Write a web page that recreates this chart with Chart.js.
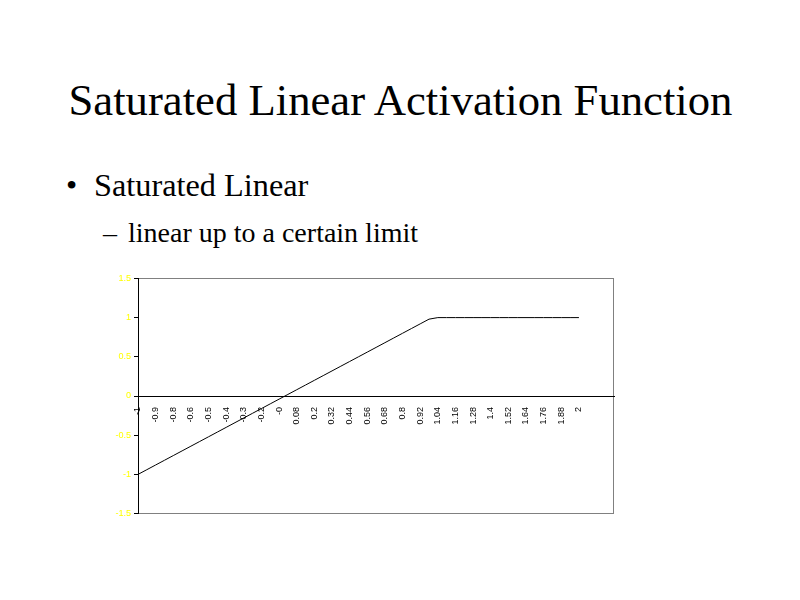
<!DOCTYPE html>
<html>
<head>
<meta charset="utf-8">
<script src="https://cdn.jsdelivr.net/npm/chart.js@4.4.0/dist/chart.umd.min.js"></script>
<style>
  html, body { margin: 0; padding: 0; background: #ffffff; }
  body { width: 800px; height: 600px; position: relative; overflow: hidden; font-family: "Liberation Serif", "Times New Roman", serif; color: #000; }
  .t { position: absolute; line-height: 1; white-space: nowrap; }
  #title { left: 0; width: 801px; text-align: center; top: 78px; font-size: 44.7px; }
  #b1 { left: 66px; top: 169px; font-size: 32px; }
  #b1txt { left: 94px; top: 169px; font-size: 32.3px; }
  #d1 { left: 103px; top: 219px; font-size: 28px; }
  #d1txt { left: 128px; top: 219px; font-size: 28px; }
  #c { position: absolute; left: 100px; top: 270px; }
</style>
</head>
<body>
<div class="t" id="title">Saturated Linear Activation Function</div>
<div class="t" id="b1">•</div>
<div class="t" id="b1txt">Saturated Linear</div>
<div class="t" id="d1">–</div>
<div class="t" id="d1txt">linear up to a certain limit</div>
<canvas id="c" width="528" height="252"></canvas>
<script>
// x categories (input values), with four trailing empty categories
const categories = [-1, -0.94, -0.88, -0.82, -0.76, -0.7, -0.64, -0.58, -0.52, -0.46,
  -0.4, -0.34, -0.28, -0.22, -0.16, -0.1, -0.04, 0.02, 0.08, 0.14,
  0.2, 0.26, 0.32, 0.38, 0.44, 0.5, 0.56, 0.62, 0.68, 0.74,
  0.8, 0.86, 0.92, 0.98, 1.04, 1.1, 1.16, 1.22, 1.28, 1.34,
  1.4, 1.46, 1.52, 1.58, 1.64, 1.7, 1.76, 1.82, 1.88, 1.94, 2,
  "", "", "", ""];
// saturated linear output values
const outputValues = [-1, -0.94, -0.88, -0.82, -0.76, -0.7, -0.64, -0.58, -0.52, -0.46,
  -0.4, -0.34, -0.28, -0.22, -0.16, -0.1, -0.04, 0.02, 0.08, 0.14,
  0.2, 0.26, 0.32, 0.38, 0.44, 0.5, 0.56, 0.62, 0.68, 0.74,
  0.8, 0.86, 0.92, 0.98, 1, 1, 1, 1, 1, 1,
  1, 1, 1, 1, 1, 1, 1, 1, 1, 1, 1,
  null, null, null, null];
// tick labels shown on every other category
const xTickLabels = ["-1", "-0.9", "-0.8", "-0.6", "-0.5", "-0.4", "-0.3", "-0.2", "-0", "0.08",
  "0.2", "0.32", "0.44", "0.56", "0.68", "0.8", "0.92", "1.04", "1.16", "1.28",
  "1.4", "1.52", "1.64", "1.76", "1.88", "2"];
const yMin = -1.5, yMax = 1.5, yStep = 0.5;

const plotBorder = {
  id: 'plotBorder',
  beforeDraw(chart) {
    const a = chart.chartArea, ctx = chart.ctx;
    ctx.save();
    ctx.strokeStyle = '#808080';
    ctx.lineWidth = 1;
    const l = Math.round(a.left) + 0.5, t = Math.round(a.top) + 0.5;
    const r = Math.round(a.right) - 0.5, b = Math.round(a.bottom) - 0.5;
    ctx.strokeRect(l, t, r - l, b - t);
    ctx.restore();
  }
};

new Chart(document.getElementById('c'), {
  type: 'line',
  data: {
    labels: categories,
    datasets: [{
      data: outputValues,
      borderColor: '#000000',
      borderWidth: 1,
      pointRadius: 0,
      tension: 0,
      cubicInterpolationMode: 'default',
      borderJoinStyle: 'miter',
      fill: false,
      spanGaps: false
    }]
  },
  options: {
    responsive: false,
    animation: false,
    devicePixelRatio: 1,
    layout: { padding: { top: 8, right: 6, bottom: 7, left: 0 } },
    plugins: { legend: { display: false }, tooltip: { enabled: false }, title: { display: false } },
    scales: {
      x: {
        type: 'category',
        position: { y: 0 },
        offset: false,
        grid: { display: false },
        border: { display: true, color: '#000000', width: 1 },
        ticks: {
          autoSkip: false,
          maxRotation: 90,
          minRotation: 90,
          padding: 3,
          color: '#000000',
          font: { family: 'Arial, "Liberation Sans", sans-serif', size: 9 },
          callback: function (v, i) { return (i % 2 === 0 && i / 2 < xTickLabels.length) ? xTickLabels[i / 2] : ''; }
        }
      },
      y: {
        min: yMin,
        max: yMax,
        afterFit(scale) { scale.width = 38; },
        grid: { drawOnChartArea: false, drawTicks: true, tickLength: 4, color: '#000000' },
        border: { display: true, color: '#000000', width: 1 },
        ticks: {
          stepSize: yStep,
          padding: 3,
          color: '#FFFF00',
          font: { family: 'Arial, "Liberation Sans", sans-serif', size: 9 },
          callback: function (v) { return String(v); }
        }
      }
    }
  },
  plugins: [plotBorder]
});
</script>
</body>
</html>
